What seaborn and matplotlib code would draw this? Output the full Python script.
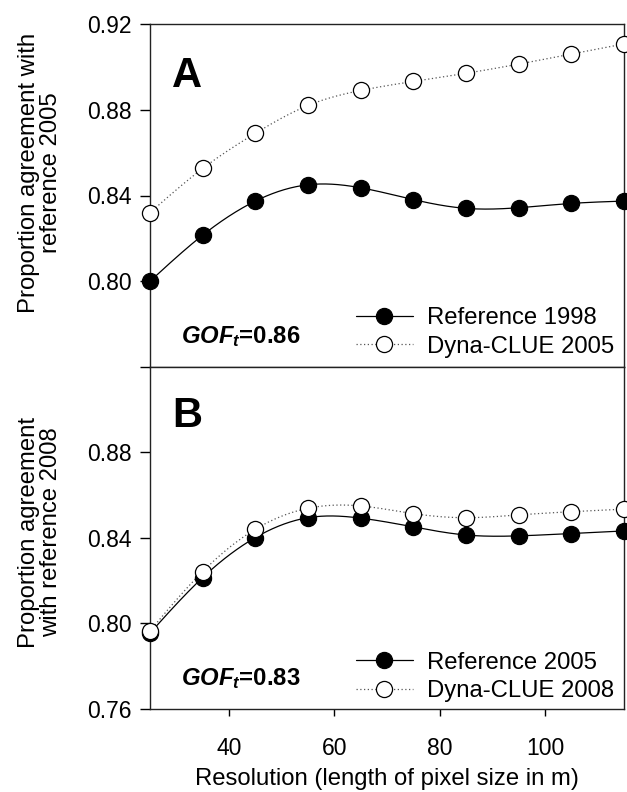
import numpy as np
import matplotlib
matplotlib.use('Agg')
import matplotlib.pyplot as plt
import seaborn as sns
from matplotlib.lines import Line2D

# ---- data ----
resolution = [25, 35, 45, 55, 65, 75, 85, 95, 105, 115]
a_reference_1998 = [0.800, 0.8215, 0.8374, 0.8450, 0.8436, 0.8381, 0.8340, 0.8343, 0.8363, 0.8374]
a_dynaclue_2005 = [0.8320, 0.8526, 0.8690, 0.8820, 0.8890, 0.8932, 0.8970, 0.9013, 0.9060, 0.9107]
b_reference_2005 = [0.7955, 0.8215, 0.8402, 0.8495, 0.8493, 0.8452, 0.8414, 0.8410, 0.8421, 0.8433]
b_dynaclue_2008 = [0.7966, 0.8243, 0.8441, 0.8539, 0.8550, 0.8514, 0.8495, 0.8508, 0.8523, 0.8535]
a_labels = ["Reference 1998", "Dyna-CLUE 2005"]
b_labels = ["Reference 2005", "Dyna-CLUE 2008"]
a_gof = "0.86"
b_gof = "0.83"
a_yticks = [0.80, 0.84, 0.88, 0.92]
b_yticks = [0.76, 0.80, 0.84, 0.88]
xticks = [40, 60, 80, 100]

sns.set_style('ticks')
plt.rcParams['font.family'] = ['Liberation Sans', 'DejaVu Sans']
plt.rcParams['mathtext.fontset'] = 'custom'
plt.rcParams['mathtext.it'] = 'Liberation Sans:italic:bold'
plt.rcParams['mathtext.rm'] = 'Liberation Sans:bold'
plt.rcParams['mathtext.bf'] = 'Liberation Sans:bold'
for key in ['text.color', 'axes.labelcolor', 'xtick.color', 'ytick.color',
            'xtick.labelcolor', 'ytick.labelcolor']:
    plt.rcParams[key] = 'black'

FS_TICK = 16.5
FS_TXT = 17.2
DOT = (0, (1, 2))


def natural_spline(x, y, n=400):
    x = np.asarray(x, float)
    y = np.asarray(y, float)
    m = len(x)
    h = np.diff(x)
    A = np.zeros((m, m))
    r = np.zeros(m)
    A[0, 0] = 1
    A[-1, -1] = 1
    for i in range(1, m - 1):
        A[i, i - 1] = h[i - 1]
        A[i, i] = 2 * (h[i - 1] + h[i])
        A[i, i + 1] = h[i]
        r[i] = 3 * ((y[i + 1] - y[i]) / h[i] - (y[i] - y[i - 1]) / h[i - 1])
    c = np.linalg.solve(A, r)
    b = (y[1:] - y[:-1]) / h - h * (2 * c[:-1] + c[1:]) / 3
    d = (c[1:] - c[:-1]) / (3 * h)
    xs = np.linspace(x[0], x[-1], n)
    idx = np.clip(np.searchsorted(x, xs, side='right') - 1, 0, m - 2)
    dx = xs - x[idx]
    ys = y[idx] + b[idx] * dx + c[idx] * dx ** 2 + d[idx] * dx ** 3
    return xs, ys


fig = plt.figure(figsize=(6.27, 7.92), dpi=100)
left, right = 150 / 627, 624 / 627
top_a, mid, bot_b = 1 - 24 / 792, 1 - 367 / 792, 1 - 709 / 792
axA = fig.add_axes([left, mid, right - left, top_a - mid])
axB = fig.add_axes([left, bot_b, right - left, mid - bot_b])


def draw_panel(ax, filled, hollow, labels, letter, gof, yticks, letter_y, leg_y):
    xs, ys = natural_spline(resolution, filled)
    sns.lineplot(x=xs, y=ys, ax=ax, color='black', lw=0.9, estimator=None, sort=False)
    xs2, ys2 = natural_spline(resolution, hollow)
    sns.lineplot(x=xs2, y=ys2, ax=ax, color='#555555', lw=0.9, estimator=None, sort=False)
    ax.lines[-1].set_linestyle(DOT)
    sns.scatterplot(x=resolution, y=filled, ax=ax, s=135, color='black', edgecolor='black',
                    linewidth=0.9, zorder=3, clip_on=False)
    sns.scatterplot(x=resolution, y=hollow, ax=ax, s=135, color='white', edgecolor='black',
                    linewidth=0.9, zorder=4, clip_on=False)
    ax.set_xlim(25, 115)
    ax.set_ylim(0.76, 0.92)
    ax.set_yticks(yticks)
    ax.set_yticklabels([f"{v:.2f}" for v in yticks])
    ax.tick_params(axis='y', direction='out', length=7, width=1, pad=6, labelsize=FS_TICK,
                   colors='black')
    for s in ax.spines.values():
        s.set_visible(True)
        s.set_color('#222222')
        s.set_linewidth(1.0)
    ax.text(0.046, letter_y, letter, transform=ax.transAxes, fontsize=30, color='black',
            fontweight='bold', va='baseline', ha='left')
    ax.text(0.065, 0.07, r'$GOF_t$=' + gof, transform=ax.transAxes, fontsize=FS_TXT,
            fontweight='bold', va='baseline', ha='left', color='black')
    handles = [
        Line2D([0], [0], color='black', lw=0.9, marker='o', ms=11.6,
               mfc='black', mec='black', mew=0.9),
        Line2D([0], [0], color='#555555', lw=0.9, ls=DOT, marker='o', ms=11.6,
               mfc='white', mec='black', mew=0.9),
    ]
    leg = ax.legend(handles, labels, loc='center left', bbox_to_anchor=(0.435, leg_y),
                    frameon=False, fontsize=FS_TXT, borderpad=0, borderaxespad=0,
                    handlelength=2.37, handletextpad=0.6, labelspacing=0.27)
    for t in leg.get_texts():
        t.set_color('black')
    ax.set_xlabel('')
    ax.set_ylabel('')


draw_panel(axA, a_reference_1998, a_dynaclue_2005, a_labels, 'A', a_gof, a_yticks, 0.816, 0.1006)
draw_panel(axB, b_reference_2005, b_dynaclue_2008, b_labels, 'B', b_gof, b_yticks, 0.825, 0.0936)

axA.set_xticks([])
axA.tick_params(axis='x', length=0)
# tick at the shared boundary
axA.set_yticks(a_yticks + [0.76])
axA.set_yticklabels([f"{v:.2f}" for v in a_yticks] + [''])

axB.set_xticks(xticks)
axB.set_xticklabels([str(v) for v in xticks])
axB.tick_params(axis='x', direction='out', length=5, width=1, pad=15, labelsize=FS_TICK,
                colors='black')
axB.set_xlabel('Resolution (length of pixel size in m)', fontsize=FS_TXT, labelpad=6,
               color='black')

fig.text(40 / 627, 1 - 173 / 792, 'Proportion agreement with\nreference 2005', rotation=90,
         ha='center', va='center', multialignment='center', fontsize=FS_TXT, linespacing=1.05,
         color='black')
fig.text(40 / 627, 1 - 532 / 792, 'Proportion agreement\nwith reference 2008', rotation=90,
         ha='center', va='center', multialignment='center', fontsize=FS_TXT, linespacing=1.05,
         color='black')

fig.savefig('out.png', dpi=100)
